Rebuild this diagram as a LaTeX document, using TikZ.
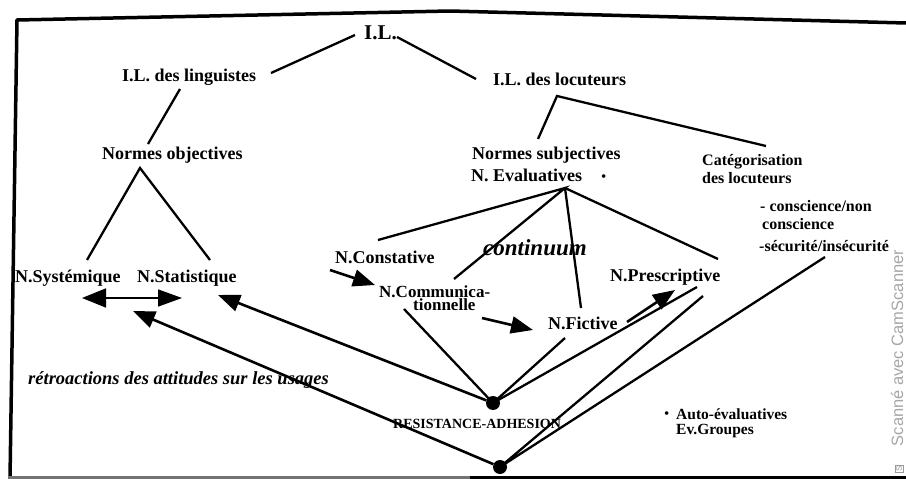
\documentclass[tikz,border=0pt]{standalone}
\usepackage{fontspec}
\setmainfont{Liberation Serif}
\newfontfamily\wmfont{Liberation Sans}
\usetikzlibrary{arrows.meta}

\begin{document}
\begin{tikzpicture}[x=1pt, y=-1pt,
        txt/.style={inner sep=0pt, anchor=base west, font=\fontsize{18}{20}\selectfont\bfseries},
        link/.style={line width=2.3pt},
        arr/.style={line width=2.6pt, -{Triangle[length=22pt,width=17pt]}},
        dot/.style={circle, fill, inner sep=0pt, minimum size=14pt}]
        \useasboundingbox (0,0) rectangle (906,479);

        %frame
        \draw[line width=3.5pt, line join=round] (906,23) -- (450,11) -- (17,20) -- (10,479);
        \draw[line width=3pt, black!55] (8,477) -- (470,477);
        \draw[line width=3pt] (470,477) -- (906,477);

        %end points of the links
        \coordinate (A) at (355,35);
        \coordinate (B) at (397,37);
        \coordinate (C) at (271,73);
        \coordinate (D) at (476,79);
        \coordinate (E) at (180,89);
        \coordinate (F) at (148,144);
        \coordinate (G) at (140,168);
        \coordinate (H) at (87,260);
        \coordinate (I) at (210,260);
        \coordinate (J) at (557,96);
        \coordinate (K) at (538,139);
        \coordinate (L) at (766,146);
        \coordinate (M) at (565,188);
        \coordinate (N) at (378,240);
        \coordinate (P) at (454,279);
        \coordinate (Q) at (581,308);
        \coordinate (R) at (718,259);
        \coordinate (S) at (404,309);
        \coordinate (T) at (565,338);
        \coordinate (U) at (697,287);
        \coordinate (V) at (703,296);
        \coordinate (W) at (825,257);

        \node[txt, font=\fontsize{21}{23}\selectfont\bfseries] (il) at (364,39) {I.L.};
        \node[txt] (ling) at (122,81) {I.L. des linguistes};
        \node[txt] (locu) at (493,85) {I.L. des locuteurs};
        \node[txt] (nobj) at (102,159) {Normes objectives};
        \node[txt] (nsubj) at (472,159) {Normes subjectives};
        \node[txt] (neval) at (471,181) {N. Evaluatives};
        \node[txt, font=\fontsize{15}{15}\selectfont] (star) at (601,181) {\textbullet};
        \node[txt, font=\fontsize{16}{18}\selectfont\bfseries] (cat1) at (702,165) {Catégorisation};
        \node[txt, font=\fontsize{16}{18}\selectfont\bfseries] (cat2) at (702,183) {des locuteurs};
        \node[txt, font=\fontsize{16}{18}\selectfont\bfseries] (cat3) at (760,211) {- conscience/non};
        \node[txt, font=\fontsize{16}{18}\selectfont\bfseries] (cat4) at (762,229) {conscience};
        \node[txt, font=\fontsize{16}{18}\selectfont\bfseries] (cat5) at (759,251) {-sécurité/insécurité};
        \node[txt] (syst) at (15,282) {N.Systémique};
        \node[txt] (stat) at (137,282) {N.Statistique};
        \node[txt] (const) at (335,263) {N.Constative};
        \node[txt, font=\fontsize{17}{12}\selectfont\bfseries] (comm1) at (379,297) {N.Communica-};
        \node[txt, font=\fontsize{17}{12}\selectfont\bfseries] (comm2) at (413,310) {tionnelle};
        \node[txt] (fict) at (548,329) {N.Fictive};
        \node[txt] (presc) at (610,281) {N.Prescriptive};
        \node[txt, font=\fontsize{23}{25}\selectfont\bfseries\itshape] (cont) at (483,255) {continuum};
        \node[txt, font=\fontsize{18.5}{21}\selectfont\bfseries\itshape] (retro) at (28,384) {rétroactions des attitudes sur les usages};
        \node[txt, font=\fontsize{14}{16}\selectfont\bfseries] (resist) at (393,428) {RESISTANCE-ADHESION};
        \node[txt, font=\fontsize{15}{15}\selectfont] (bul) at (664,418) {\textbullet};
        \node[txt, font=\fontsize{15.5}{14}\selectfont\bfseries] (auto) at (676,419) {Auto-évaluatives};
        \node[txt, font=\fontsize{15.5}{14}\selectfont\bfseries] (evgr) at (676,434) {Ev.Groupes};

        \node[dot] (ra) at (493,403) {};
        \node[dot] (rb) at (500,467) {};

        \draw[link] (C) -- (A);
        \draw[link] (B) -- (D);
        \draw[link] (E) -- (F);
        \draw[link] (H) -- (G) -- (I);
        \draw[link] (K) -- (J) -- (L);
        \draw[link] (N) -- (M) -- (P);
        \draw[link] (M) -- (Q);
        \draw[link] (M) -- (R);
        \draw[link] (S) -- (ra.center) -- (T);
        \draw[link] (ra.center) -- (U);
        \draw[link] (V) -- (rb.center) -- (W);

        \draw[line width=1.6pt, {Triangle[length=24pt,width=19pt]}-{Triangle[length=24pt,width=17pt]}] (82,298) -- (182,298);
        \draw[arr] (ra) -- (218,295);
        \draw[arr] (rb) -- (133,311);
        \draw[arr] (330,270) -- (375,285);
        \draw[arr] (482,318) -- (533,330);
        \draw[arr] (627,322) -- (675,290);

        \node[anchor=base, rotate=90, inner sep=0pt, font=\wmfont\fontsize{16.5}{16.5}\selectfont, text=black!35] (scan) at (903,348) {Scanné avec CamScanner};
        \node[draw=black!40, rotate=90, inner sep=1pt, font=\wmfont\fontsize{8}{8}\selectfont, text=black!40] (scanlogo) at (899,469) {S};
\end{tikzpicture}
\end{document}
